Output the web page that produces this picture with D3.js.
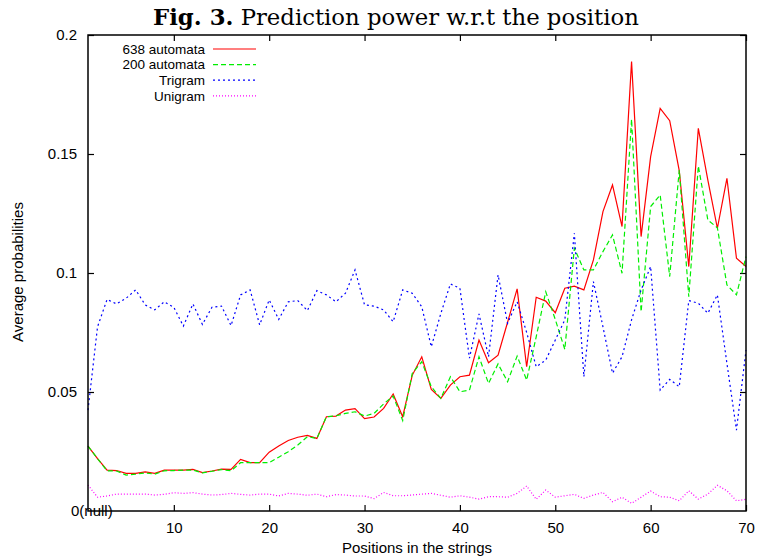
<!DOCTYPE html>
<html>
<head>
<meta charset="utf-8">
<script src="https://cdn.jsdelivr.net/npm/d3@7"></script>
<style>
  body { margin: 0; background: #fff; }
  .tickText { font-family: "Liberation Sans", Arial, sans-serif; font-size: 15px; fill: #000; }
  .legendText { font-family: "Liberation Sans", Arial, sans-serif; font-size: 13.5px; fill: #000; }
</style>
</head>
<body>
<div id="chart"></div>
<script>
// positions in the strings
var positions = d3.range(1, 71);

var seriesLabels = ['638 automata', '200 automata', 'Trigram', 'Unigram'];

var automata638 = [0.0273, 0.022, 0.0172, 0.017, 0.0158, 0.0158, 0.0164, 0.0158, 0.0172, 0.0172,
    0.0172, 0.0175, 0.0161, 0.0168, 0.0176, 0.0175, 0.0217, 0.0203, 0.0203, 0.0247,
    0.0273, 0.0296, 0.031, 0.0318, 0.0305, 0.0396, 0.0399, 0.0424, 0.043, 0.0388,
    0.0395, 0.0431, 0.0492, 0.0396, 0.057, 0.0648, 0.0511, 0.0473, 0.0529, 0.0564,
    0.0571, 0.0718, 0.0623, 0.0655, 0.0793, 0.0933, 0.0606, 0.0898, 0.0882, 0.0833,
    0.0936, 0.0945, 0.0929, 0.1055, 0.1258, 0.137, 0.1195, 0.1888, 0.1153, 0.1489,
    0.1692, 0.164, 0.143, 0.1027, 0.1608, 0.139, 0.1188, 0.1398, 0.1062, 0.1027];

var automata200 = [0.0273, 0.022, 0.0169, 0.0168, 0.0151, 0.0155, 0.016, 0.0155, 0.0169, 0.017,
    0.0172, 0.0172, 0.016, 0.0167, 0.0174, 0.0169, 0.0203, 0.0203, 0.0203, 0.0203,
    0.0226, 0.0249, 0.0277, 0.0312, 0.0305, 0.0396, 0.04, 0.041, 0.0417, 0.0399,
    0.041, 0.045, 0.0483, 0.038, 0.0578, 0.0627, 0.0522, 0.0473, 0.0564, 0.0501,
    0.0508, 0.0648, 0.0536, 0.0618, 0.0543, 0.0651, 0.055, 0.0732, 0.0921, 0.0805,
    0.0679, 0.1104, 0.1013, 0.1013, 0.109, 0.116, 0.0999, 0.1646, 0.0837, 0.1279,
    0.1328, 0.0985, 0.1433, 0.09, 0.145, 0.1223, 0.119, 0.095, 0.0908, 0.1069];

var trigram = [0.0424, 0.0774, 0.0889, 0.087, 0.0894, 0.0929, 0.0866, 0.0845, 0.0879, 0.0856,
    0.0777, 0.087, 0.0784, 0.0856, 0.0861, 0.0779, 0.0908, 0.0929, 0.0782, 0.0887,
    0.0805, 0.0879, 0.0884, 0.0842, 0.0926, 0.0908, 0.0879, 0.0915, 0.1013, 0.0866,
    0.0861, 0.0845, 0.0795, 0.0929, 0.0915, 0.0858, 0.069, 0.083, 0.0954, 0.0936,
    0.0642, 0.0828, 0.0648, 0.0992, 0.0789, 0.0879, 0.075, 0.0606, 0.0634, 0.0718,
    0.0803, 0.1167, 0.0564, 0.0964, 0.0774, 0.0579, 0.0648, 0.0803, 0.0929, 0.1027,
    0.0508, 0.0553, 0.0522, 0.0884, 0.0873, 0.0831, 0.0908, 0.062, 0.034, 0.0676];

var unigram = [0.0109, 0.0058, 0.0063, 0.0071, 0.0071, 0.0071, 0.0071, 0.0067, 0.007, 0.0077,
    0.0074, 0.0077, 0.0071, 0.0067, 0.0069, 0.0074, 0.007, 0.0067, 0.0071, 0.0071,
    0.0063, 0.0074, 0.0071, 0.0066, 0.0071, 0.006, 0.0069, 0.0067, 0.0063, 0.0063,
    0.0052, 0.0078, 0.0064, 0.0064, 0.0067, 0.0071, 0.0074, 0.0066, 0.0058, 0.0064,
    0.0058, 0.005, 0.006, 0.006, 0.0058, 0.0074, 0.0105, 0.0049, 0.0088, 0.0058,
    0.0064, 0.007, 0.0053, 0.0067, 0.0078, 0.0039, 0.0058, 0.0032, 0.0058, 0.0084,
    0.006, 0.0058, 0.0043, 0.0085, 0.005, 0.0071, 0.0108, 0.0085, 0.0043, 0.0049];

var xTicks = [10, 20, 30, 40, 50, 60, 70];
var yTicks = [0.05, 0.1, 0.15, 0.2];

var width = 757, height = 558;
var margin = {left: 88, top: 35, right: 11, bottom: 47};
var plotW = width - margin.left - margin.right,
    plotH = height - margin.top - margin.bottom;

var svg = d3.select("#chart").append("svg")
    .attr("width", width)
    .attr("height", height);

// title, sized so it spans about the same width as the original
var title = svg.append("text")
    .attr("x", 396)
    .attr("y", 25)
    .attr("text-anchor", "middle")
    .style("font-family", "'DejaVu Serif', 'Liberation Serif', serif")
    .style("font-size", "20px");
title.append("tspan").style("font-weight", "bold").text("Fig. 3.");
title.append("tspan").text(" Prediction power w.r.t the position");
var titleW = title.node().getComputedTextLength();
if (titleW > 0) title.style("font-size", (20 * 486 / titleW) + "px");

var g = svg.append("g")
    .attr("transform", "translate(" + margin.left + "," + margin.top + ")");

var x = d3.scaleLinear().domain([1, 70]).range([0, plotW]);
var y = d3.scaleLinear().domain([0, 0.2]).range([plotH, 0]);

// inward ticks on all four sides (gnuplot style)
var tickLen = 6;
g.append("g").attr("transform", "translate(0," + plotH + ")")
    .call(d3.axisBottom(x).tickValues(xTicks).tickSize(-tickLen).tickPadding(11).tickFormat(d3.format("d")));
g.append("g")
    .call(d3.axisTop(x).tickValues(xTicks).tickSize(-tickLen).tickFormat(""));
g.append("g")
    .call(d3.axisLeft(y).tickValues(yTicks).tickSize(-tickLen).tickPadding(11).tickFormat(d3.format("")));
g.append("g").attr("transform", "translate(" + plotW + ",0)")
    .call(d3.axisRight(y).tickValues(yTicks).tickSize(-tickLen).tickFormat(""));

g.selectAll(".domain").remove();
g.selectAll(".tick line").attr("stroke", "#000").attr("stroke-width", 1.2);
g.selectAll(".tick text").attr("class", "tickText");

// odd gnuplot label at origin
g.append("text")
    .attr("class", "tickText")
    .attr("x", -17)
    .attr("y", y(0))
    .attr("dy", "0.35em")
    .text("0(null)");

// series
var seriesData = [automata638, automata200, trigram, unigram];
var seriesColor = d3.scaleOrdinal().domain(seriesLabels).range(["#ff0000", "#00ee00", "#0000ff", "#ff00ff"]);
var seriesDash = ["none", "5,3", "2,3", "1,2"];

var line = d3.line()
    .x(function (d, i) { return x(positions[i]); })
    .y(function (d) { return y(d); });

g.selectAll(".series")
    .data(seriesData)
    .enter().append("path")
    .attr("class", "series")
    .attr("d", line)
    .attr("fill", "none")
    .attr("stroke", function (d, i) { return seriesColor(seriesLabels[i]); })
    .attr("stroke-width", 1.2)
    .attr("stroke-dasharray", function (d, i) { return seriesDash[i]; });

// frame
g.append("rect")
    .attr("width", plotW)
    .attr("height", plotH)
    .attr("fill", "none")
    .attr("stroke", "#000")
    .attr("stroke-width", 1.5);

// legend
var legend = g.selectAll(".legendRow")
    .data(seriesLabels)
    .enter().append("g")
    .attr("class", "legendRow")
    .attr("transform", function (d, i) {
        return "translate(0," + (14 + i * 15.6) + ")";
    });
legend.append("text")
    .attr("class", "legendText")
    .attr("x", 117)
    .attr("dy", "0.35em")
    .attr("text-anchor", "end")
    .text(function (d) { return d; });
legend.append("line")
    .attr("x1", 125).attr("x2", 168)
    .attr("stroke", function (d) { return seriesColor(d); })
    .attr("stroke-width", 1.2)
    .attr("stroke-dasharray", function (d, i) { return seriesDash[i]; });

// axis titles
svg.append("text")
    .attr("class", "tickText")
    .attr("x", 417)
    .attr("y", 553)
    .attr("text-anchor", "middle")
    .text("Positions in the strings");
svg.append("text")
    .attr("class", "tickText")
    .attr("transform", "translate(23,272) rotate(-90)")
    .attr("text-anchor", "middle")
    .text("Average probabilities");
</script>
</body>
</html>
